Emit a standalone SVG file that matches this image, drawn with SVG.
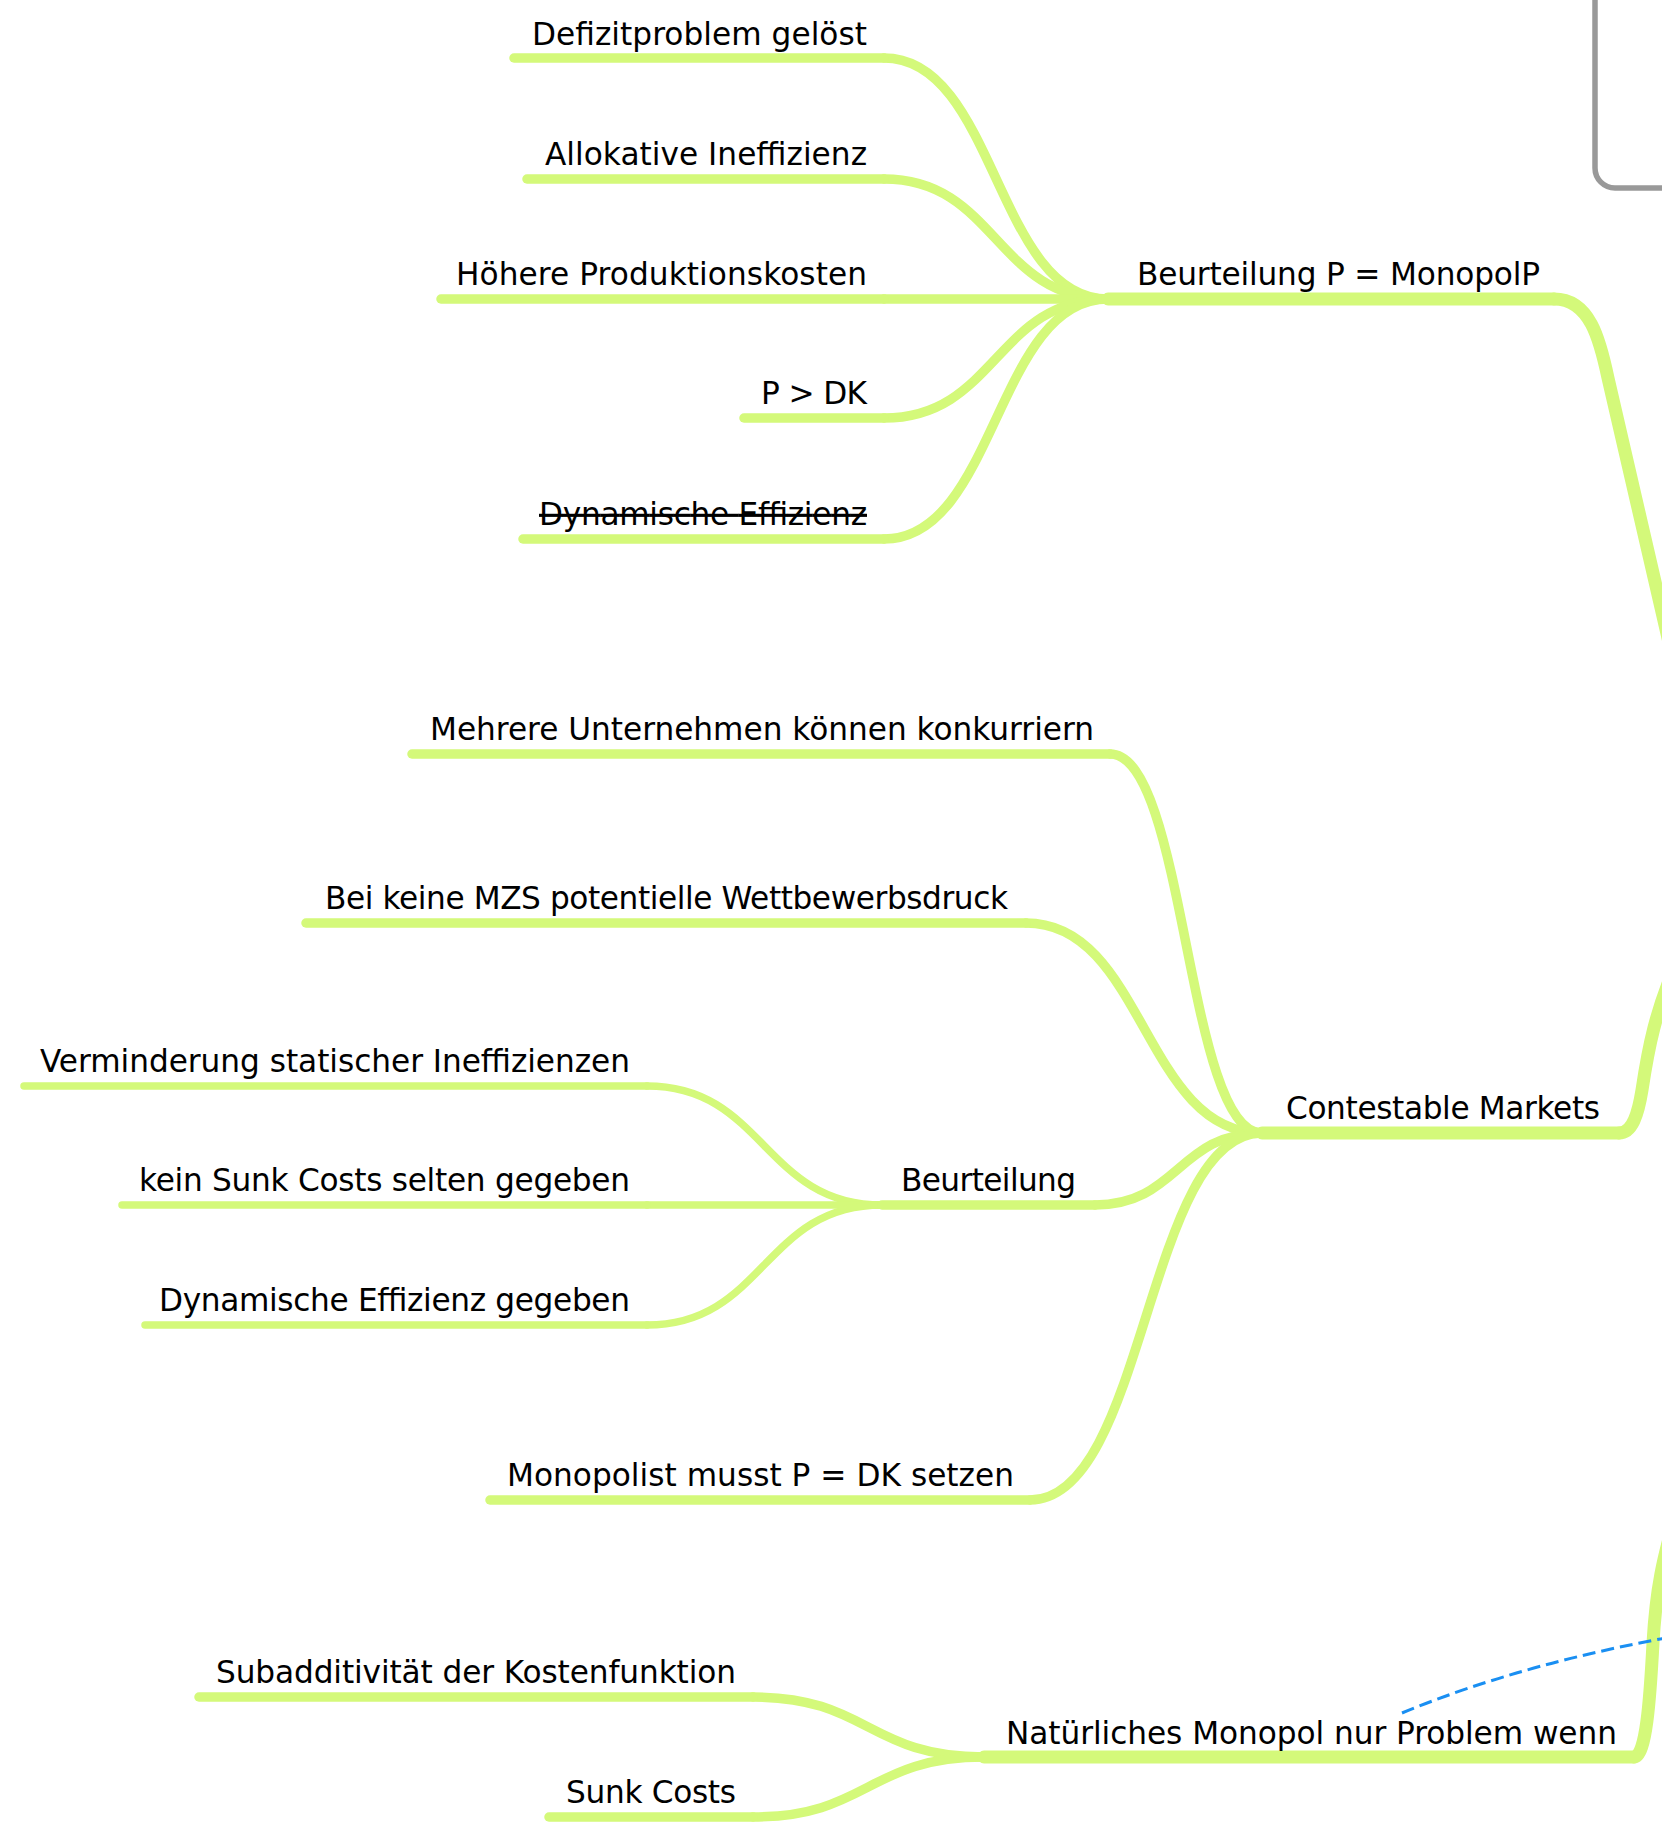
<svg xmlns="http://www.w3.org/2000/svg" width="1662" height="1833" viewBox="0 0 1662 1833">
<style>
.t{font-family:"DejaVu Sans","Liberation Sans",sans-serif;font-size:31.2px;fill:#000;text-anchor:end}
.g{stroke:#d4f97a;fill:none;stroke-linecap:round;stroke-linejoin:round}
.w2{stroke-width:13}
.w3{stroke-width:9.5}
.w4{stroke-width:7.5}
.rel{stroke:#1a8ff2;stroke-width:3;fill:none;stroke-dasharray:13 6}
</style>
<rect width="1662" height="1833" fill="#fff"/>
<g id="floating-box">
<rect x="1595" y="-40" width="140" height="228" rx="20" fill="#fff" stroke="#999" stroke-width="5.5"/>
</g>
<g id="connectors">
<path class="g w2" d="M1554,299 C1590,299 1600,340 1608,378 L1680,690"/>
<path class="g w2" d="M1619,1133 C1632,1133 1638,1115 1642,1090 C1648,1050 1655,1010 1680,955"/>
<path class="g w2" d="M1634,1757 C1646,1757 1650,1700 1653,1643 C1656,1590 1662,1560 1680,1500"/>
<path class="g w3" d="M884,58 C996,58 996,299 1108,299"/>
<path class="g w3" d="M884,179 C996,179 996,299 1108,299"/>
<path class="g w3" d="M884,299 L1108,299"/>
<path class="g w3" d="M884,418 C996,418 996,299 1108,299"/>
<path class="g w3" d="M884,539 C996,539 996,299 1108,299"/>
<path class="g w3" d="M1110,754 C1186,754 1186,1133 1262,1133"/>
<path class="g w3" d="M1026,923 C1144,923 1144,1133 1262,1133"/>
<path class="g w3" d="M1095,1205 C1178,1205 1178,1133 1262,1133"/>
<path class="g w3" d="M1030,1500 C1146,1500 1146,1133 1262,1133"/>
<path class="g w4" d="M647,1086 C764,1086 764,1205 882,1205"/>
<path class="g w4" d="M647,1205 L882,1205"/>
<path class="g w4" d="M647,1325 C764,1325 764,1205 882,1205"/>
<path class="g w3" d="M753,1697 C868,1697 868,1757 984,1757"/>
<path class="g w3" d="M753,1817 C868,1817 868,1757 984,1757"/>
<path class="rel" d="M1402,1713 Q1530,1660 1700,1632"/>
</g>
<g id="node-beurteilung-p">
<line class="g w2" x1="1108" y1="299" x2="1554" y2="299"/>
<text class="t" x="1540" y="285" textLength="403">Beurteilung P = MonopolP</text>
</g>
<g id="node-contestable">
<line class="g w2" x1="1262" y1="1133" x2="1619" y2="1133"/>
<text class="t" x="1600" y="1119" textLength="314">Contestable Markets</text>
</g>
<g id="node-natuerliches">
<line class="g w2" x1="984" y1="1757" x2="1634" y2="1757"/>
<text class="t" x="1617" y="1744" textLength="611">Natürliches Monopol nur Problem wenn</text>
</g>
<g id="node-defizit">
<line class="g w3" x1="514" y1="58" x2="884" y2="58"/>
<text class="t" x="867" y="45" textLength="335">Defizitproblem gelöst</text>
</g>
<g id="node-allokativ">
<line class="g w3" x1="527" y1="179" x2="884" y2="179"/>
<text class="t" x="867" y="165" textLength="322">Allokative Ineffizienz</text>
</g>
<g id="node-hoehere">
<line class="g w3" x1="441" y1="299" x2="884" y2="299"/>
<text class="t" x="867" y="285" textLength="411">Höhere Produktionskosten</text>
</g>
<g id="node-pdk">
<line class="g w3" x1="744" y1="418" x2="884" y2="418"/>
<text class="t" x="867" y="404" textLength="106">P &gt; DK</text>
</g>
<g id="node-dynamisch">
<line class="g w3" x1="523" y1="539" x2="884" y2="539"/>
<text class="t" x="867" y="525" textLength="328" text-decoration="line-through">Dynamische Effizienz</text>
</g>
<g id="node-mehrere">
<line class="g w3" x1="412" y1="754" x2="1110" y2="754"/>
<text class="t" x="1094" y="740" textLength="664">Mehrere Unternehmen können konkurriern</text>
</g>
<g id="node-beikeine">
<line class="g w3" x1="306" y1="923" x2="1026" y2="923"/>
<text class="t" x="1008" y="909" textLength="683">Bei keine MZS potentielle Wettbewerbsdruck</text>
</g>
<g id="node-beurteilung">
<line class="g w3" x1="882" y1="1205" x2="1095" y2="1205"/>
<text class="t" x="1076" y="1191" textLength="175">Beurteilung</text>
</g>
<g id="node-monopolist">
<line class="g w3" x1="490" y1="1500" x2="1030" y2="1500"/>
<text class="t" x="1014" y="1486" textLength="507">Monopolist musst P = DK setzen</text>
</g>
<g id="node-verminderung">
<line class="g w4" x1="24" y1="1086" x2="647" y2="1086"/>
<text class="t" x="630" y="1072" textLength="590">Verminderung statischer Ineffizienzen</text>
</g>
<g id="node-keinsunk">
<line class="g w4" x1="122" y1="1205" x2="647" y2="1205"/>
<text class="t" x="630" y="1191" textLength="491">kein Sunk Costs selten gegeben</text>
</g>
<g id="node-dyngegeben">
<line class="g w4" x1="145" y1="1325" x2="647" y2="1325"/>
<text class="t" x="630" y="1311" textLength="471">Dynamische Effizienz gegeben</text>
</g>
<g id="node-subadd">
<line class="g w3" x1="199" y1="1697" x2="753" y2="1697"/>
<text class="t" x="736" y="1683" textLength="520">Subadditivität der Kostenfunktion</text>
</g>
<g id="node-sunk">
<line class="g w3" x1="549" y1="1817" x2="753" y2="1817"/>
<text class="t" x="736" y="1803" textLength="170">Sunk Costs</text>
</g>
</svg>
